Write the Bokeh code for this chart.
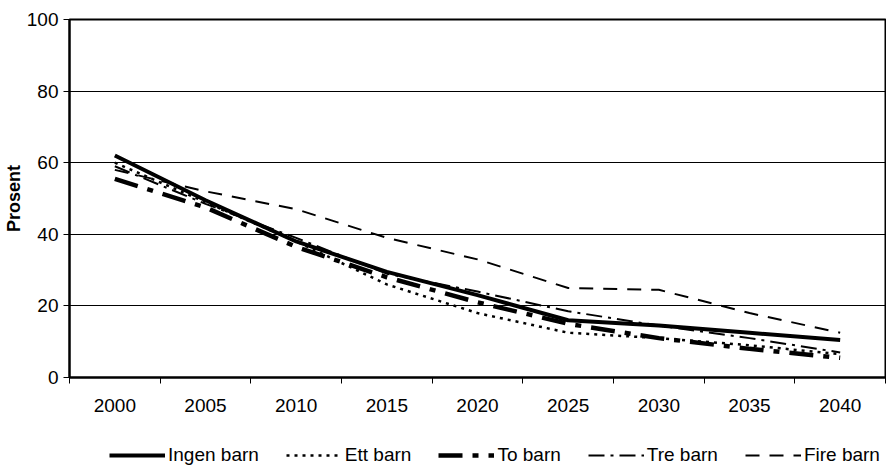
from bokeh.plotting import figure
from bokeh.layouts import column
from bokeh.models import Range1d, FixedTicker, Legend, LegendItem
from bokeh.embed import file_html
from bokeh.resources import INLINE

years = ["2000", "2005", "2010", "2015", "2020", "2025", "2030", "2035", "2040"]
ingen_barn = [62, 49.5, 38, 29.5, 23, 16, 14.5, 12.5, 10.5]
ett_barn = [60, 49, 38, 26, 18, 12.5, 11, 9, 6.5]
to_barn = [55.5, 47.5, 36.5, 28, 21, 15, 11, 8, 5.5]
tre_barn = [59, 48.5, 39, 29, 24, 18.5, 14.5, 11, 7]
fire_barn = [58, 52, 47, 39, 33, 25, 24.5, 18, 12.5]
y_ticks = [0, 20, 40, 60, 80, 100]
series_names = ["Ingen barn", "Ett barn", "To barn", "Tre barn", "Fire barn"]
series = [ingen_barn, ett_barn, to_barn, tre_barn, fire_barn]

xs = [i + 0.5 for i in range(len(years))]
FONT = "Liberation Sans"

styles = [
    dict(line_color="black", line_width=4),
    dict(line_color="black", line_width=2.5, line_dash="3 5"),
    dict(line_color="black", line_width=4.5, line_dash="24 10 6 10"),
    dict(line_color="black", line_width=2, line_dash="16 6 3 6"),
    dict(line_color="black", line_width=2, line_dash="14 10"),
]

p = figure(width=886, height=434, output_backend="svg", toolbar_location=None,
           x_range=Range1d(0, len(years)), y_range=Range1d(0, 100),
           min_border_left=66, min_border_right=1, min_border_top=19, min_border_bottom=57)

p.outline_line_color = "black"
p.outline_line_width = 2
p.xgrid.visible = False
p.ygrid.grid_line_color = "black"
p.ygrid.grid_line_width = 1
p.ygrid.ticker = FixedTicker(ticks=y_ticks)

p.yaxis.ticker = FixedTicker(ticks=y_ticks)
p.yaxis.axis_label = "Prosent"
p.yaxis.axis_label_text_font = FONT
p.yaxis.axis_label_text_font_style = "bold"
p.yaxis.axis_label_text_font_size = "18px"
p.yaxis.axis_label_text_color = "black"
p.yaxis.axis_label_standoff = 0
p.yaxis.major_label_text_font = FONT
p.yaxis.major_label_text_font_size = "19px"
p.yaxis.major_label_text_color = "black"
p.yaxis.major_label_standoff = 5
p.yaxis.major_tick_out = 6
p.yaxis.major_tick_in = 0
p.yaxis.minor_tick_line_color = None
p.yaxis.axis_line_width = 2

p.xaxis.ticker = FixedTicker(ticks=xs, minor_ticks=list(range(len(years) + 1)))
p.xaxis.major_label_overrides = {x: y for x, y in zip(xs, years)}
p.xaxis.major_tick_out = 0
p.xaxis.major_tick_in = 0
p.xaxis.minor_tick_out = 6
p.xaxis.minor_tick_in = 0
p.xaxis.major_label_text_font = FONT
p.xaxis.major_label_text_font_size = "19px"
p.xaxis.major_label_text_color = "black"
p.xaxis.major_label_standoff = 15
p.xaxis.axis_line_width = 2

for vals, st in zip(series, styles):
    p.line(xs, vals, **st)

# legend strip below the chart (its lines lie outside its visible range)
lf = figure(width=886, height=34, output_backend="svg", toolbar_location=None,
            x_range=Range1d(0, len(years)), y_range=Range1d(200, 201),
            min_border=0, x_axis_type=None, y_axis_type=None)
lf.outline_line_color = None
lf.xgrid.visible = False
lf.ygrid.visible = False
items = []
for name, vals, st in zip(series_names, series, styles):
    r = lf.line(xs, vals, **st)
    items.append(LegendItem(label=name, renderers=[r]))

legend = Legend(items=items, orientation="horizontal", location=(40, 2),
    label_text_font=FONT, label_text_font_size="19px", label_text_color="black",
    glyph_width=56, glyph_height=20, label_standoff=3, spacing=27,
    border_line_alpha=0, background_fill_alpha=0, padding=0, margin=0)
lf.add_layout(legend)

layout = column(p, lf, spacing=0)
open("out.html", "w").write(file_html(layout, INLINE))
